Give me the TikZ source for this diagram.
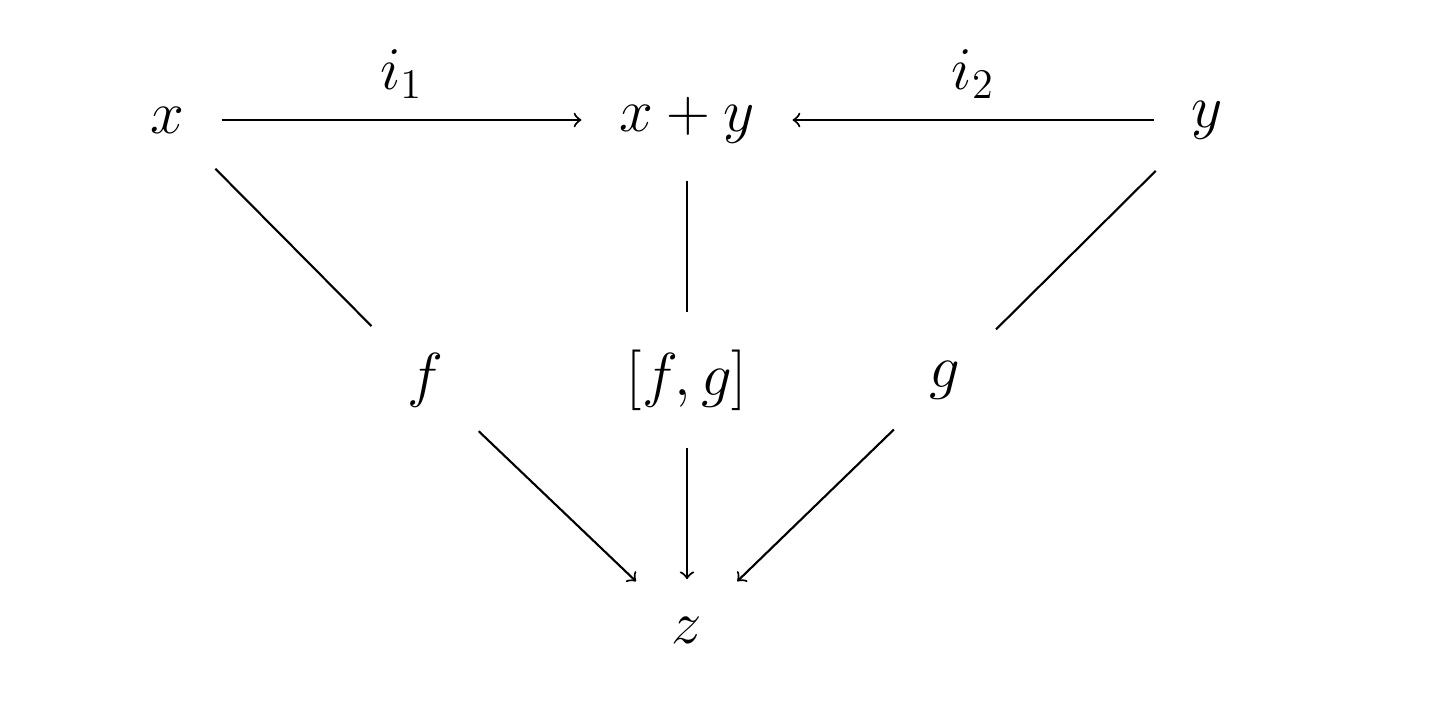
\documentclass[tikz,border=0pt]{standalone}
\usetikzlibrary{positioning}
\begin{document}
\begin{tikzpicture}[every node/.style={font=\fontsize{17}{20}\selectfont, inner sep=0.3cm},
    map/.style={->, line width=0.6pt, shorten >=2pt, shorten <=2pt},
    seg/.style={line width=0.6pt, shorten >=2pt, shorten <=2pt}]
  \useasboundingbox (0,0) rectangle (14.36,7.1);
  \node (x) at (1.67,5.9) {$x$};
  \node (xy) at (6.87,5.9) {$x+y$};
  \node (y) at (12.07,5.9) {$y$};
  \node (f) at (4.25,3.3) {$f$};
  \node (fg) at (6.87,3.3) {$[f,g]$};
  \node (g) at (9.45,3.3) {$g$};
  \node (z) at (6.87,0.8) {$z$};
  \draw[map] (x) -- node[above, inner sep=0.2cm] {$i_1$} (xy);
  \draw[map] (y) -- node[above, inner sep=0.2cm] {$i_2$} (xy);
  \draw[seg] (x) -- (f);
  \draw[map] (f) -- (z);
  \draw[seg] (xy) -- (fg);
  \draw[map] (fg) -- (z);
  \draw[seg] (y) -- (g);
  \draw[map] (g) -- (z);
\end{tikzpicture}
\end{document}
